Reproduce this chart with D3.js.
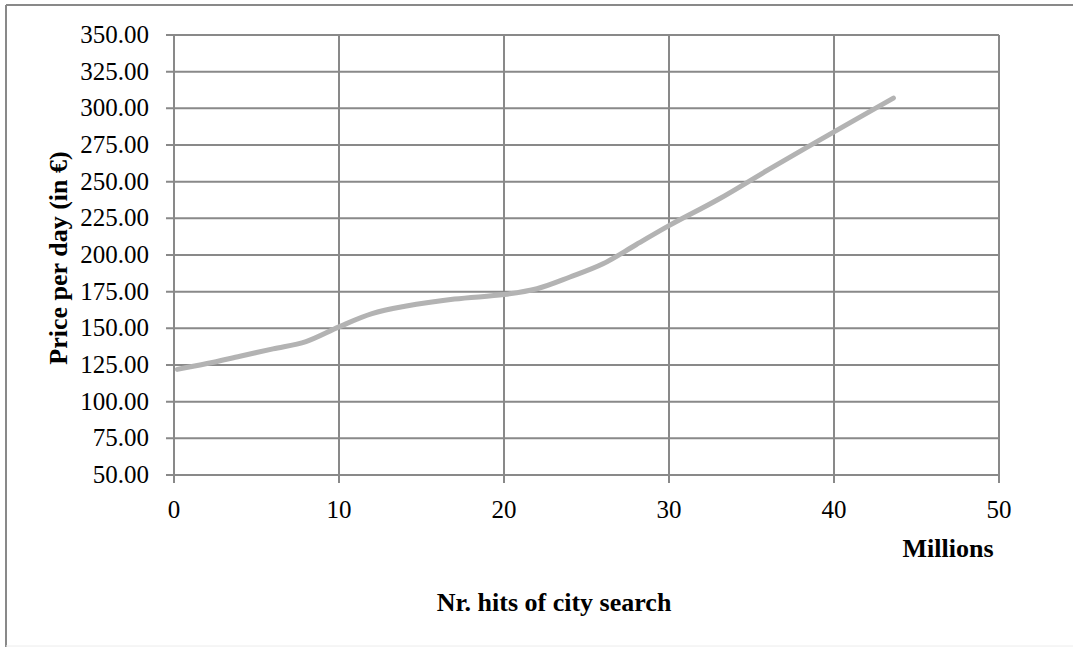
<!DOCTYPE html>
<html>
<head>
<meta charset="utf-8">
<script src="https://cdn.jsdelivr.net/npm/d3@7"></script>
<style>
  body { margin: 0; background: #fff; }
  text { font-family: "Liberation Serif", "Times New Roman", serif; fill: #000; }
</style>
</head>
<body>
<svg id="chart" width="1073" height="647"></svg>
<script>
// hits (millions) vs price per day
var hits = [0.2, 2, 4, 6, 8, 10, 12, 14, 17, 20, 22, 24, 26, 28, 30, 33, 36, 40, 43.6];
var price = [122, 126, 131, 136, 141, 151, 160, 165, 170, 173, 177, 185, 194, 207, 220, 238, 258, 284, 307];
var xTicks = [0, 10, 20, 30, 40, 50];
var yTicks = [50, 75, 100, 125, 150, 175, 200, 225, 250, 275, 300, 325, 350];

var svg = d3.select("#chart");
var gridColor = "#898989";

// outer frame
svg.append("line").attr("x1", 6).attr("x2", 1073).attr("y1", 5).attr("y2", 5)
  .attr("stroke", gridColor).attr("stroke-width", 2);
svg.append("line").attr("x1", 6).attr("x2", 6).attr("y1", 5).attr("y2", 647)
  .attr("stroke", gridColor).attr("stroke-width", 2);
svg.append("line").attr("x1", 6).attr("x2", 1073).attr("y1", 646).attr("y2", 646)
  .attr("stroke", "#ececec").attr("stroke-width", 1);

var xScale = d3.scaleLinear().domain([0, 50]).range([174, 999]);
var yScale = d3.scaleLinear().domain([50, 350]).range([475, 35]);

// gridlines
svg.selectAll(".hgrid").data(yTicks).join("line")
  .attr("class", "hgrid")
  .attr("x1", 166).attr("x2", 999)
  .attr("y1", d => yScale(d)).attr("y2", d => yScale(d))
  .attr("stroke", gridColor).attr("stroke-width", 2);

svg.selectAll(".vgrid").data(xTicks).join("line")
  .attr("class", "vgrid")
  .attr("x1", d => xScale(d)).attr("x2", d => xScale(d))
  .attr("y1", 35).attr("y2", 483)
  .attr("stroke", gridColor).attr("stroke-width", 2);

// tick labels
svg.selectAll(".ylab").data(yTicks).join("text")
  .attr("class", "ylab")
  .attr("x", 149).attr("y", d => yScale(d) + 8)
  .attr("text-anchor", "end")
  .style("font-size", "25px")
  .text(d => d3.format(".2f")(d));

svg.selectAll(".xlab").data(xTicks).join("text")
  .attr("class", "xlab")
  .attr("x", d => xScale(d)).attr("y", 518)
  .attr("text-anchor", "middle")
  .style("font-size", "25px")
  .text(d => d);

// line
var line = d3.line()
  .x((d, i) => xScale(hits[i]))
  .y(d => yScale(d))
  .curve(d3.curveCatmullRom);

svg.append("path").datum(price)
  .attr("d", line)
  .attr("fill", "none")
  .attr("stroke", "#b3b3b3")
  .attr("stroke-width", 5)
  .attr("stroke-linecap", "round");

// axis titles
svg.append("text").attr("x", 948).attr("y", 557)
  .attr("text-anchor", "middle")
  .style("font-size", "26px").style("font-weight", "bold")
  .text("Millions");

svg.append("text").attr("x", 554).attr("y", 611)
  .attr("text-anchor", "middle")
  .style("font-size", "26px").style("font-weight", "bold")
  .text("Nr. hits of city search");

svg.append("text")
  .attr("transform", "translate(67,258) rotate(-90)")
  .attr("text-anchor", "middle")
  .style("font-size", "26px").style("font-weight", "bold")
  .text("Price per day (in €)");
</script>
</body>
</html>
